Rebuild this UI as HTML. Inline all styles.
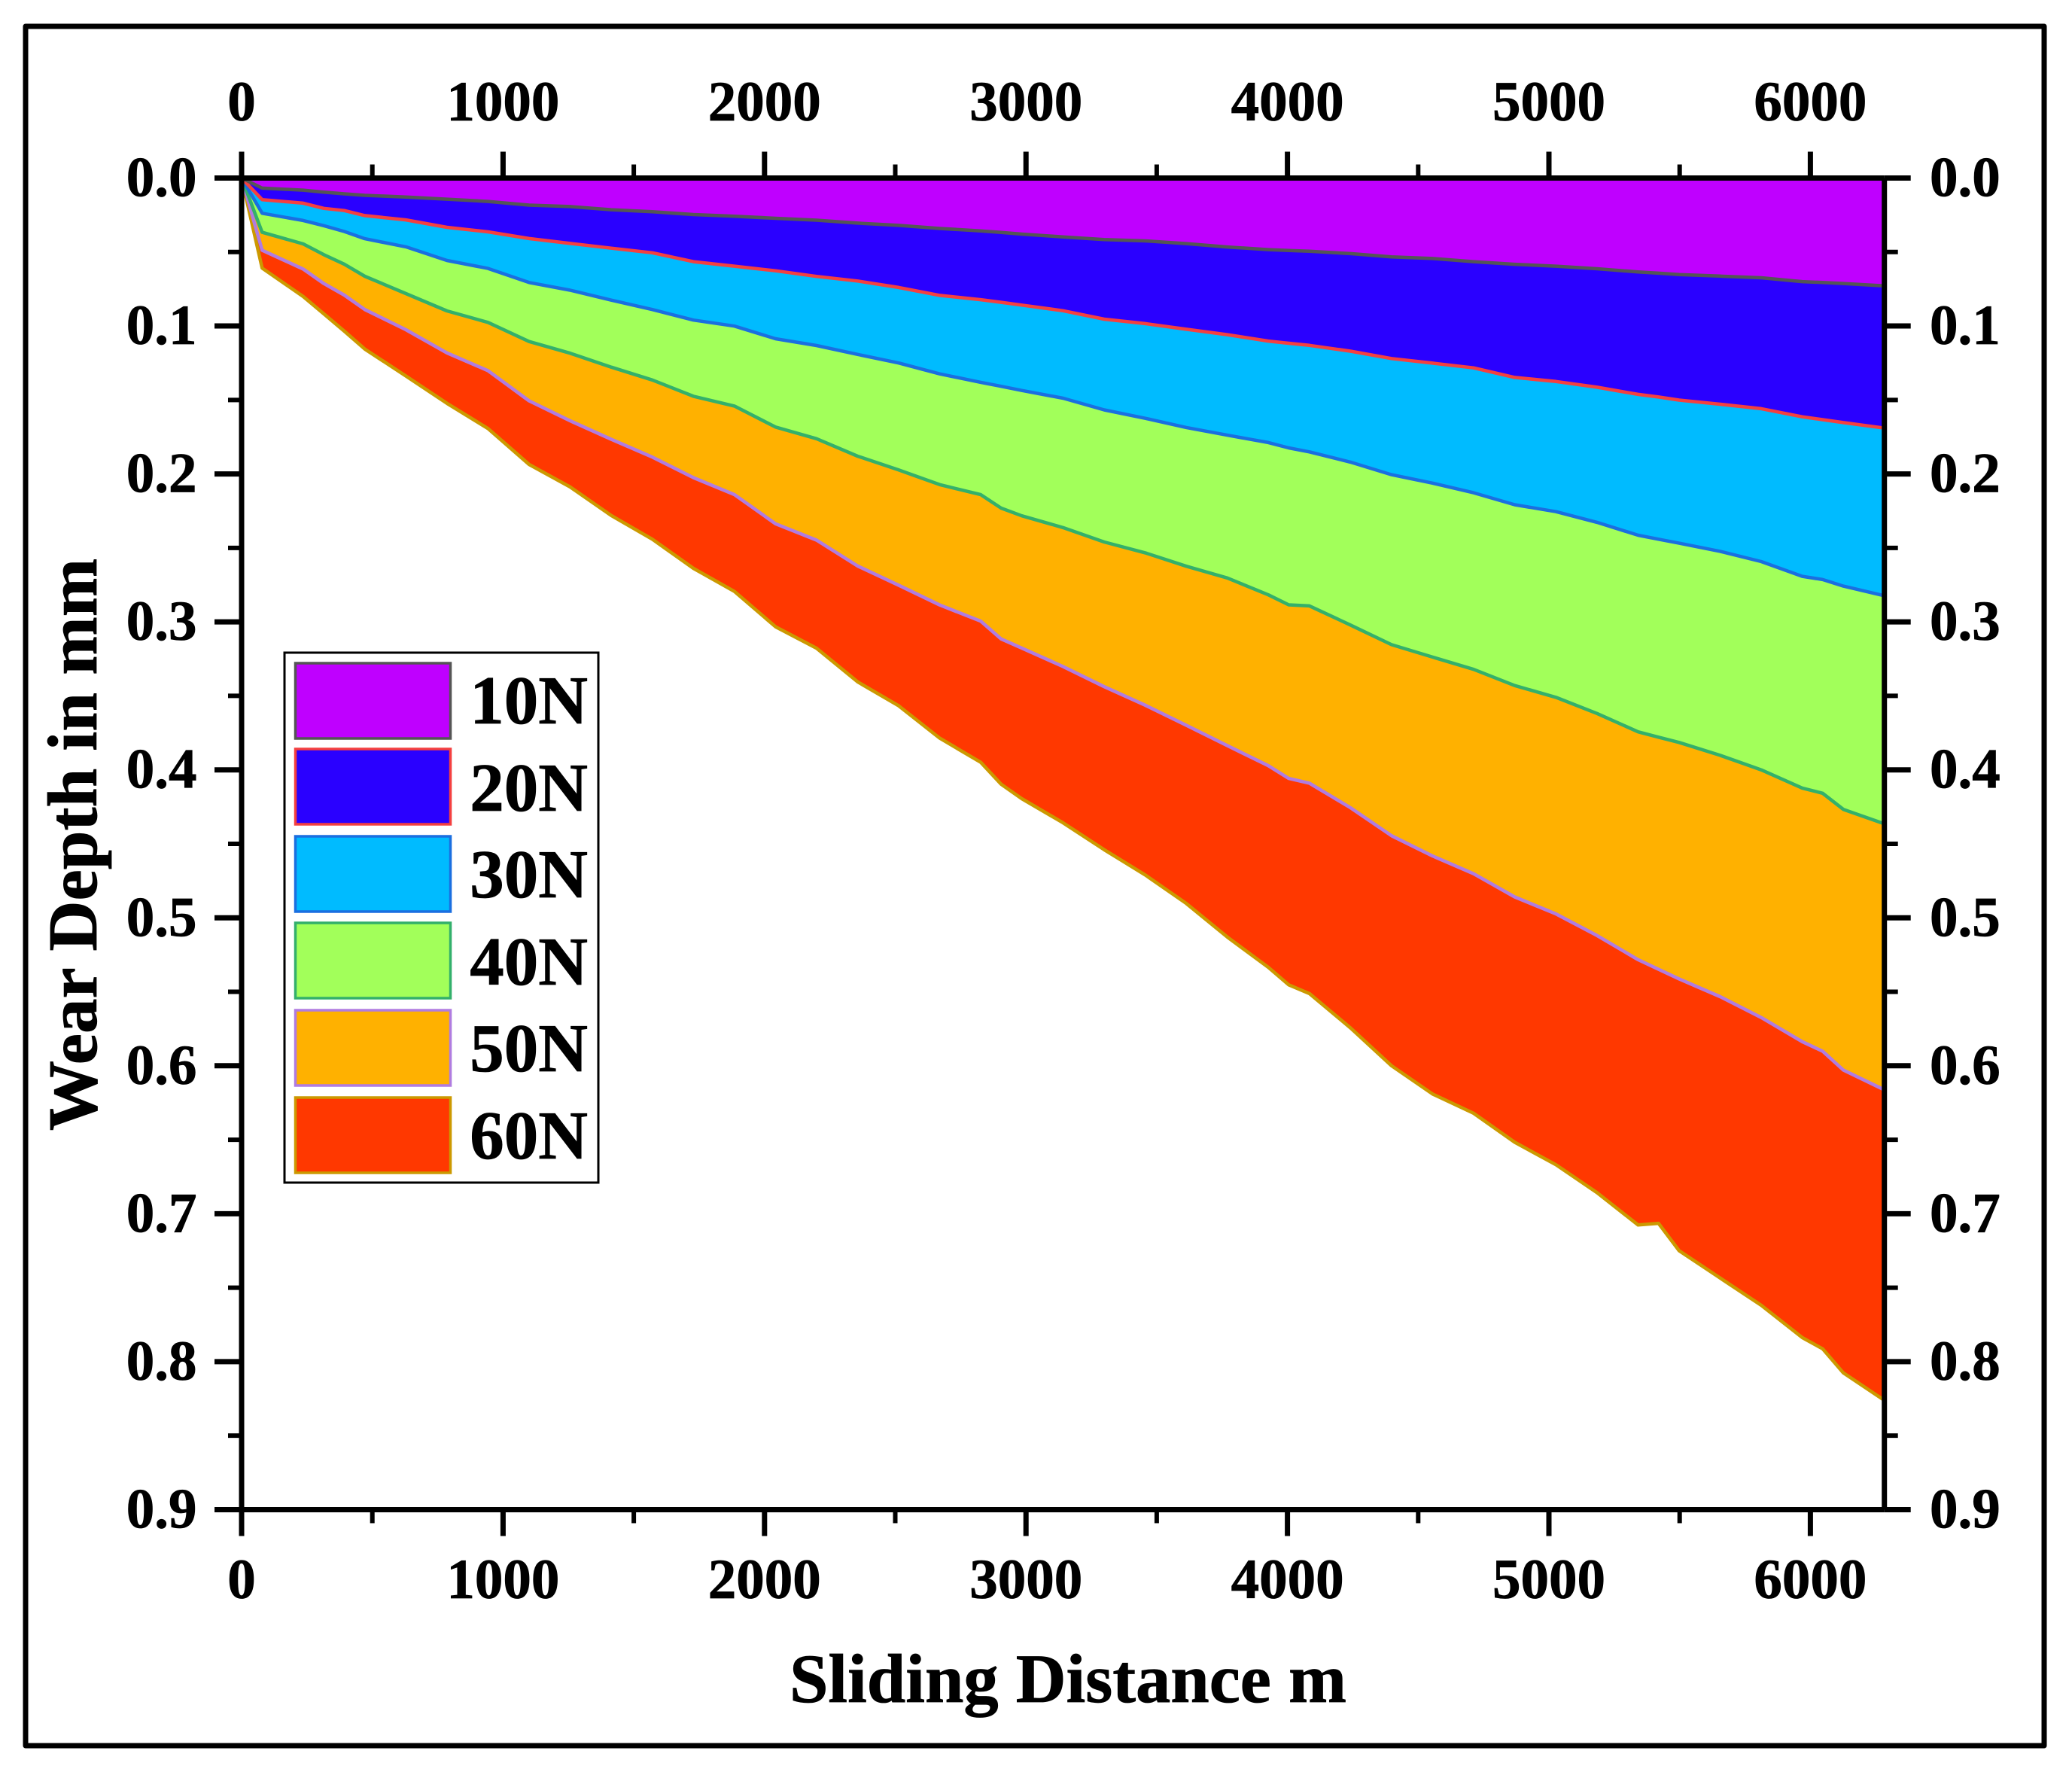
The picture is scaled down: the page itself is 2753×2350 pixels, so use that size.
<!DOCTYPE html>
<html lang="en">
<head>
<meta charset="utf-8">
<title>Wear Depth vs Sliding Distance</title>
<style>
html,body{margin:0;padding:0;background:#fff;width:2753px;height:2350px;overflow:hidden}
svg{display:block}
text{font-family:"Liberation Serif",serif;font-weight:bold;fill:#000;stroke:#000;stroke-width:0.8px}
</style>
</head>
<body>
<svg id="chart" xmlns="http://www.w3.org/2000/svg" width="2753" height="2350" viewBox="0 0 2753 2350">
  <rect x="0" y="0" width="2753" height="2350" fill="#fff"/>
  <rect x="34" y="35" width="2682" height="2284" fill="none" stroke="#000" stroke-width="7" stroke-linejoin="round"/>
  <g id="areas"></g>
  <g id="lines"></g>
  <g id="axes"></g>
  <text x="1419" y="2261" font-size="92.5" text-anchor="middle">Sliding Distance m</text>
  <text transform="translate(128,1122) rotate(-90)" font-size="93" text-anchor="middle">Wear Depth in mm</text>
  <g id="legend">
    <rect x="378" y="867" width="417" height="704" fill="#fff" stroke="#000" stroke-width="3"/>
  </g>
</svg>
<script>
var distances = [0,78.5,235.6,314.2,392.7,471.2,628.3,785.4,942.5,1099.6,1256.6,1413.7,1570.8,1727.9,1885,2042,2199,2356,2513,2670,2827,2905,2984,3142,3299,3456,3613,3770,3927,4005,4084,4241,4398,4555,4712,4869,5027,5184,5341,5419,5498,5655,5812,5969,6047,6126,6283];
var wear10N = [0,.0068,.0082,.0095,.0107,.0117,.0128,.0143,.0158,.0183,.0193,.0214,.0228,.0247,.0258,.0272,.0285,.0305,.0320,.0341,.0357,.0368,.0379,.0398,.0416,.0425,.0443,.0466,.0484,.0490,.0495,.0511,.0533,.0544,.0565,.0583,.0596,.0613,.0635,.0643,.0652,.0663,.0674,.07,.0706,.0713,.0729];
var wear20N = [0,.0146,.017,.0205,.022,.0254,.0283,.0333,.0364,.0409,.0442,.0474,.0505,.0565,.0596,.0627,.0665,.0696,.074,.0793,.0822,.084,.0859,.0897,.0954,.0984,.1022,.1059,.1102,.1117,.1131,.117,.122,.1251,.1283,.1348,.1375,.1414,.1462,.148,.1501,.1529,.1559,.1614,.1633,.1653,.169];
var wear30N = [0,.0238,.0287,.0322,.0361,.041,.0465,.0557,.0611,.0706,.0758,.0825,.0889,.096,.1001,.1086,.1132,.1192,.125,.1324,.1381,.1408,.1436,.1488,.1567,.1624,.1686,.1738,.1788,.1824,.1851,.192,.2005,.2062,.2127,.2208,.2255,.2327,.2414,.2441,.2468,.2523,.2592,.2692,.2714,.2758,.2823];
var wear40N = [0,.0367,.0445,.0518,.0582,.0664,.0781,.0898,.0976,.1105,.1184,.1278,.1365,.1475,.1541,.1683,.1762,.188,.1973,.2072,.214,.2231,.2283,.2363,.246,.2533,.2624,.2703,.2817,.2885,.2892,.3021,.3154,.3238,.3321,.343,.351,.3619,.3743,.3779,.3815,.3902,.4,.4123,.4158,.4267,.4365];
var wear50N = [0,.0488,.0615,.0713,.0791,.0889,.1025,.1182,.1302,.1506,.1641,.1766,.1886,.2025,.214,.2337,.2447,.2622,.2752,.2886,.2995,.3115,.3177,.3302,.3438,.3563,.3699,.3836,.3972,.4058,.409,.4256,.4445,.4582,.4702,.4859,.4974,.512,.5283,.5348,.5413,.5533,.5674,.5837,.5902,.6029,.6163];
var wear60N = [0,.0609,.0801,.0918,.1035,.1156,.1338,.1523,.1693,.1936,.2088,.2281,.2441,.2638,.2794,.3033,.3178,.3405,.3567,.3786,.3949,.4097,.4195,.4358,.454,.471,.4903,.513,.5335,.5453,.5512,.5744,.6,.6191,.6321,.6517,.6669,.6858,.7076,.7065,.725,.7435,.7619,.7837,.7913,.8076,.8261];
var seriesLabels = ["10N","20N","30N","40N","50N","60N"];
var xMajorTicks = [0,1000,2000,3000,4000,5000,6000];
var xMinorTicks = [500,1500,2500,3500,4500,5500];
var yMajorTicks = [0,0.1,0.2,0.3,0.4,0.5,0.6,0.7,0.8,0.9];
var yMinorTicks = [0.05,0.15,0.25,0.35,0.45,0.55,0.65,0.75,0.85];

var allSeries = [wear10N,wear20N,wear30N,wear40N,wear50N,wear60N];
var fills = ["#BF00FF","#2A00FF","#00BBFF","#A2FF5A","#FFB100","#FF3800"];
var strokes = ["#555555","#F44040","#1A6FE0","#33B06B","#B07CE0","#CC9900"];
var X0 = 321, XPER = 0.3474, Y0 = 236.5, YPER = 1965.5;
var XMAX = 6283, YMAX = 0.9;
function sx(v){ return X0 + v * XPER; }
function sy(v){ return Y0 + v * YPER; }
var NS = "http://www.w3.org/2000/svg";
function make(tag, attrs, parent){
  var el = document.createElementNS(NS, tag);
  for (var k in attrs) el.setAttribute(k, attrs[k]);
  parent.appendChild(el);
  return el;
}
var areasG = document.getElementById("areas");
var linesG = document.getElementById("lines");
var axesG = document.getElementById("axes");
var legendG = document.getElementById("legend");

for (var s = allSeries.length - 1; s >= 0; s--) {
  var pts = [];
  for (var i = 0; i < distances.length; i++) {
    pts.push(sx(distances[i]).toFixed(1) + "," + sy(allSeries[s][i]).toFixed(1));
  }
  var line = pts.join(" ");
  var poly = sx(0) + "," + sy(0) + " " + line + " " + sx(XMAX) + "," + sy(0);
  var area = make("polygon", {points: poly, fill: fills[s]}, areasG);
  
  
  var pl = make("polyline", {points: line, fill: "none", stroke: strokes[s], "stroke-width": 4.5, "stroke-linejoin": "round"}, linesG);
  
  
}

function axisLine(x1, y1, x2, y2, w, name){
  var l = make("line", {x1: x1, y1: y1, x2: x2, y2: y2, stroke: "#000", "stroke-width": w}, axesG);
  
  
}
function label(x, y, txt, anchor, name){
  var t = make("text", {x: x, y: y, "font-size": 75, "text-anchor": anchor}, axesG);
  t.textContent = txt;
  
  
}
axisLine(sx(0), sy(0), sx(XMAX), sy(0), 7, 'top-axis-line');
axisLine(sx(0), sy(YMAX), sx(XMAX), sy(YMAX), 7, 'bottom-axis-line');
axisLine(sx(0), sy(0), sx(0), sy(YMAX), 7, 'left-axis-line');
axisLine(sx(XMAX), sy(0), sx(XMAX), sy(YMAX), 7, 'right-axis-line');

xMajorTicks.forEach(function(v){
  axisLine(sx(v), sy(0), sx(v), sy(0) - 35, 7, 'x-major-tick-top');
  axisLine(sx(v), sy(YMAX), sx(v), sy(YMAX) + 35, 7, 'x-major-tick-bottom');
  label(sx(v), 160, String(v), "middle", 'x-tick-label-top');
  label(sx(v), 2123, String(v), "middle", 'x-tick-label-bottom');
});
xMinorTicks.forEach(function(v){
  axisLine(sx(v), sy(0), sx(v), sy(0) - 18, 6, 'x-minor-tick-top');
  axisLine(sx(v), sy(YMAX), sx(v), sy(YMAX) + 18, 6, 'x-minor-tick-bottom');
});
yMajorTicks.forEach(function(v){
  axisLine(sx(0), sy(v), sx(0) - 36, sy(v), 7, 'y-major-tick-left');
  axisLine(sx(XMAX), sy(v), sx(XMAX) + 35, sy(v), 7, 'y-major-tick-right');
  label(261.5, sy(v) + 24, v.toFixed(1), "end", 'y-tick-label-left');
  label(2564, sy(v) + 24, v.toFixed(1), "start", 'y-tick-label-right');
});
yMinorTicks.forEach(function(v){
  axisLine(sx(0), sy(v), sx(0) - 18, sy(v), 6, 'y-minor-tick-left');
  axisLine(sx(XMAX), sy(v), sx(XMAX) + 18, sy(v), 6, 'y-minor-tick-right');
});

var legendTops = [881,995,1111,1226,1342,1458];
var legendBaselines = [961,1077,1192,1308,1423,1539];
seriesLabels.forEach(function(name, i){
  var r = make("rect", {x: 392.5, y: legendTops[i], width: 206, height: 100, fill: fills[i], stroke: strokes[i], "stroke-width": 3.5}, legendG);
  
  
  var t = make("text", {x: 781, y: legendBaselines[i], "font-size": 91, "text-anchor": "end"}, legendG);
  t.textContent = name;
  
  
});
</script>
</body>
</html>
